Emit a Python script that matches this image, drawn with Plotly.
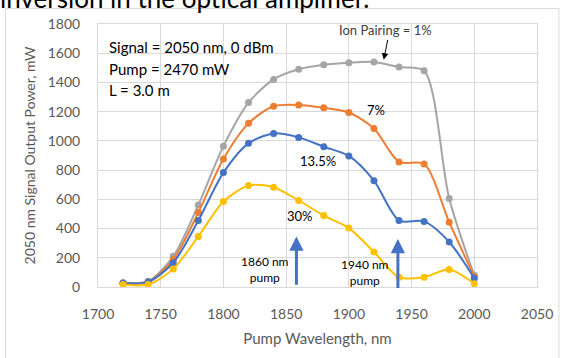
import plotly.graph_objects as go

# ---- data ----
pump_wl = [1720, 1740, 1760, 1780, 1800, 1820, 1840, 1860, 1880, 1900, 1920, 1940, 1960, 1980, 2000]
ip_1 = [30, 40, 210, 562, 964, 1262, 1421, 1490, 1521, 1535, 1540, 1505, 1480, 606, 80]
ip_7 = [25, 35, 188, 510, 876, 1120, 1237, 1246, 1226, 1194, 1085, 856, 842, 444, 70]
ip_13_5 = [25, 35, 166, 455, 783, 983, 1051, 1024, 960, 897, 728, 455, 449, 308, 60]
ip_30 = [17, 17, 124, 346, 585, 694, 683, 592, 489, 403, 240, 67, 67, 119, 22]

series_names = ["Ion Pairing = 1%", "7%", "13.5%", "30%"]
series_values = [ip_1, ip_7, ip_13_5, ip_30]
series_colors = ["#A5A5A5", "#ED7D31", "#4472C4", "#FFC000"]

x_ticks = [1700, 1750, 1800, 1850, 1900, 1950, 2000, 2050]
y_ticks = [0, 200, 400, 600, 800, 1000, 1200, 1400, 1600, 1800]

FONT = "Lato"
GRID = "#d9d9d9"

fig = go.Figure()
for name, vals, col in zip(series_names, series_values, series_colors):
    fig.add_trace(go.Scatter(
        x=pump_wl, y=vals, name=name, mode="lines+markers",
        line=dict(color=col, width=2, shape="spline", smoothing=0.8),
        marker=dict(color=col, size=7),
        showlegend=False, cliponaxis=False,
    ))

ann = []
# info text
for txt, yv in [("Signal = 2050 nm, 0 dBm", 1642), ("Pump = 2470 mW", 1494), ("L = 3.0 m", 1347)]:
    ann.append(dict(x=1707, y=yv, xref="x", yref="y", text=txt, showarrow=False,
                    xanchor="left", yanchor="middle",
                    font=dict(family=FONT, size=15, color="#000000")))
# series labels
ann.append(dict(x=1929, y=1762, text="Ion Pairing = 1%", showarrow=False,
                font=dict(family=FONT, size=13, color="#404040")))
ann.append(dict(x=1927.8, y=1556, ax=1931.2, ay=1701, axref="x", ayref="y",
                text="", showarrow=True, arrowhead=2, arrowsize=1.3, arrowwidth=1,
                arrowcolor="#000000"))
ann.append(dict(x=1922, y=1210, text="7%", showarrow=False,
                font=dict(family=FONT, size=13, color="#000000")))
ann.append(dict(x=1875, y=859, text="13.5%", showarrow=False,
                font=dict(family=FONT, size=13, color="#000000")))
ann.append(dict(x=1861, y=487, text="30%", showarrow=False,
                font=dict(family=FONT, size=13, color="#000000")))
# pump labels
ann.append(dict(x=1833, y=121, text="1860 nm<br>pump", showarrow=False,
                font=dict(family=FONT, size=12, color="#000000")))
ann.append(dict(x=1913, y=102, text="1940 nm<br>pump", showarrow=False,
                font=dict(family=FONT, size=12, color="#000000")))
# blue arrows
for xa, ytip, ytail in [(1858.2, 346, 5), (1939.1, 329, -17)]:
    ann.append(dict(x=xa, y=ytip, ax=xa, ay=ytail, axref="x", ayref="y",
                    text="", showarrow=True, arrowhead=2, arrowsize=0.95,
                    arrowwidth=3, arrowcolor="#4472C4"))
# clipped slide text at top
ann.append(dict(x=-0.228, y=1.029, xref="paper", yref="paper", xanchor="left",
                yanchor="bottom", text="inversion in the optical amplifier.",
                showarrow=False, font=dict(family=FONT, size=26, color="#000000")))

fig.update_layout(
    width=565, height=358,
    margin=dict(l=98, r=26, t=23.5, b=70.5),
    paper_bgcolor="white", plot_bgcolor="white",
    annotations=ann,
    shapes=[dict(type="rect", xref="paper", yref="paper",
                 x0=-0.2109, x1=1.0499, y0=-0.4, y1=1.0587,
                 line=dict(color=GRID, width=1), layer="below")],
    xaxis=dict(range=[1700, 2050], tickvals=x_ticks, showgrid=True, gridcolor=GRID,
               showline=True, mirror=True, linecolor=GRID, zeroline=False,
               tickfont=dict(family=FONT, size=14, color="#595959"),
               ticklabelstandoff=14,
               title=dict(text="Pump Wavelength, nm", standoff=12,
                          font=dict(family=FONT, size=15, color="#595959"))),
    yaxis=dict(range=[0, 1800], tickvals=y_ticks, showgrid=True, gridcolor=GRID,
               showline=True, mirror=True, linecolor=GRID, zeroline=False,
               tickfont=dict(family=FONT, size=14, color="#595959"),
               ticklabelstandoff=14,
               title=dict(text="2050 nm Signal Output Power, mW", standoff=8,
                          font=dict(family=FONT, size=14, color="#595959"))),
)

fig.write_html("out.html")
